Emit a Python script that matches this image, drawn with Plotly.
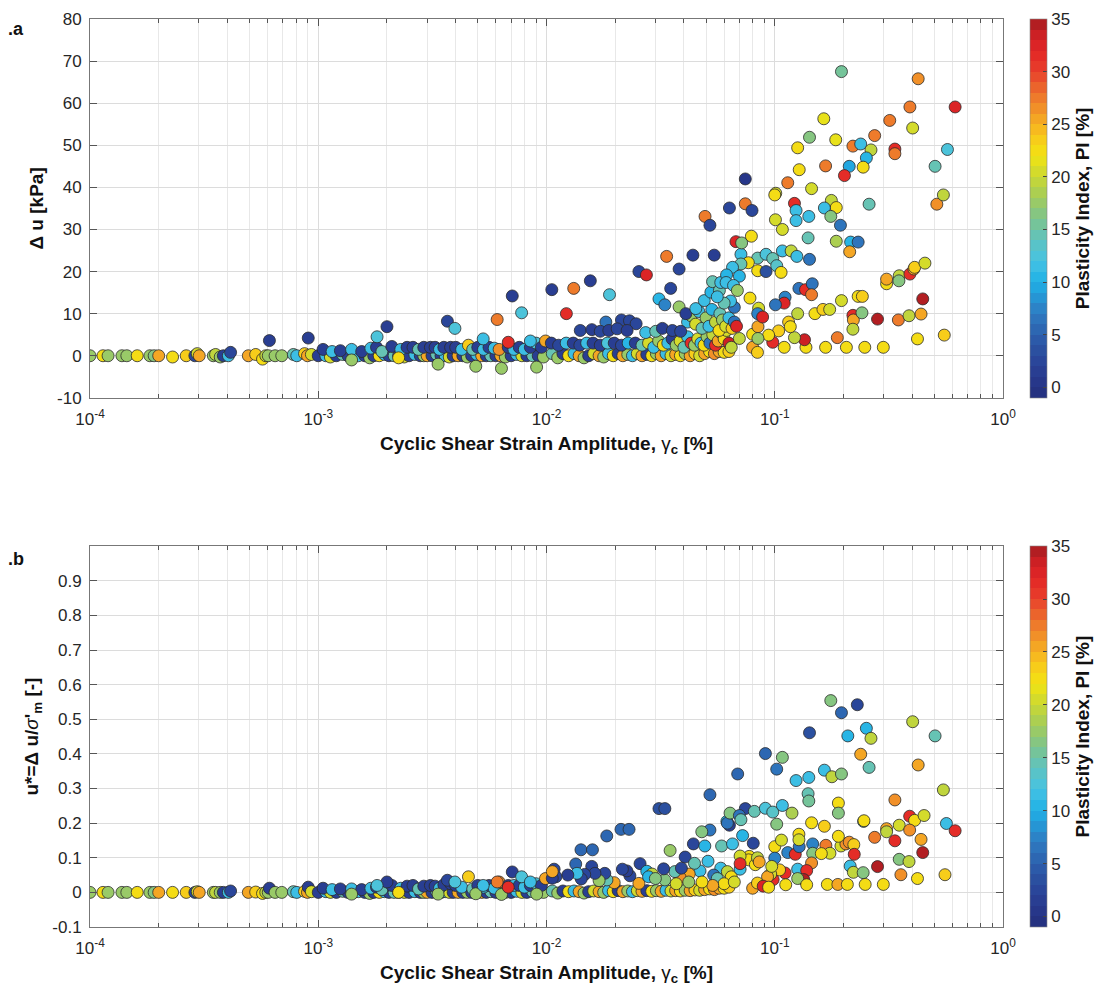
import numpy as np
import plotly.graph_objects as go

# ---------------- DATA ----------------
# Shared low-strain tests (x < 1e-3): strain [%], PI [%], du [kPa] (panel a), u* [-] (panel b)
low_x = [0.000100, 0.000114, 0.000120, 0.000138, 0.000145, 0.000161, 0.000183, 0.000191, 0.000200, 0.000230,
         0.000264, 0.000288, 0.000295, 0.000301, 0.000347, 0.000355, 0.000372, 0.000384, 0.000404, 0.000413,
         0.000494, 0.000532, 0.000570, 0.000589, 0.000604, 0.000611, 0.000647, 0.000692, 0.000778, 0.000805,
         0.000871, 0.000897, 0.000904, 0.000933]
low_pi = [17, 22, 17, 17, 17, 22, 17, 16, 25, 22,
          23, 2, 20, 25, 17, 19, 17, 1, 11, 2,
          25, 23, 22, 19, 17, 1, 17, 17, 14, 11,
          23, 25, 1, 20]
low_du = [0, 0, 0, 0, 0, 0, 0, 0, 0, -0.3,
          0, 0, 0.5, 0, 0, 0.3, -0.3, 0, 0, 0.8,
          0, 0.3, -0.8, 0, 0, 3.6, 0, 0, 0.3, 0,
          0.5, 0, 4.2, 0.3]
low_us = [0, 0, 0, 0, 0, 0, 0, 0, 0, 0,
          0, 0, 0.002, 0, 0, 0, 0, 0, 0, 0.004,
          0, 0.001, -0.003, 0, 0, 0.012, 0, 0, 0.002, 0,
          0.003, 0, 0.015, 0.002]

# 1e-3 .. 1e-2, lower row
mid0_x = [0.00100, 0.00108, 0.00113, 0.00120, 0.00128, 0.00135, 0.00143, 0.00150, 0.00160, 0.00168,
          0.00175, 0.00185, 0.00195, 0.00204, 0.00215, 0.00225, 0.00238, 0.00250, 0.00265, 0.00280,
          0.00290, 0.00300, 0.00315, 0.00330, 0.00345, 0.00360, 0.00375, 0.00390, 0.00410, 0.00430,
          0.00450, 0.00470, 0.00495, 0.00520, 0.00545, 0.00570, 0.00600, 0.00630, 0.00660, 0.00700,
          0.00740, 0.00780, 0.00820, 0.00870, 0.00920, 0.00970]
mid0_pi = [1, 11, 20, 1, 14, 1, 25, 11, 1, 17,
           1, 22, 11, 1, 14, 1, 20, 1, 11, 1,
           17, 25, 1, 14, 1, 11, 20, 1, 25, 1,
           17, 1, 11, 25, 1, 14, 1, 25, 17, 1,
           11, 20, 1, 14, 1, 17]
mid0_du = [0, 0, -0.3, 0, 0.3, 0, 0, 0, 0, -0.5,
           0, 0, 0.3, 0, 0, 0, -0.3, 0, 0.3, 0,
           0, 0, 0, 0.3, 0, 0, -0.3, 0, 0, 0,
           -0.3, 0, 0.3, 0, 0, 0, 0, 0, -0.3, 0,
           0.3, 0, 0, 0, 0, -0.3]
mid0_us = [0, 0.002, 0, 0, 0.003, 0, 0, 0.002, 0, -0.003,
           0, 0, 0.002, 0, 0, 0, 0, 0, 0.002, 0,
           0, 0, 0, 0.003, 0, 0.002, 0, 0, 0, 0,
           0, 0, 0.003, 0, 0, 0.002, 0, 0, 0, 0,
           0.003, 0, 0, 0.002, 0, 0]

# 1e-3 .. 1e-2, upper row
mid1_x = [0.00105, 0.00115, 0.00125, 0.00140, 0.00155, 0.00170, 0.00180, 0.00190, 0.00210, 0.00230,
          0.00245, 0.00260, 0.00275, 0.00290, 0.00310, 0.00325, 0.00340, 0.00355, 0.00380, 0.00400,
          0.00425, 0.00455, 0.00475, 0.00500, 0.00530, 0.00560, 0.00590, 0.00620, 0.00680, 0.00720,
          0.00760, 0.00800, 0.00850, 0.00900, 0.00950, 0.00990]
mid1_pi = [1, 11, 1, 11, 1, 11, 1, 14, 1, 11,
           1, 1, 14, 1, 1, 1, 11, 1, 1, 1,
           11, 23, 14, 1, 11, 1, 11, 26, 1, 11,
           1, 11, 1, 12, 1, 25]
mid1_du = [1.5, 1.0, 1.2, 1.5, 1.0, 1.8, 2.0, 1.0, 2.2, 1.5,
           2.0, 2.0, 1.5, 2.0, 2.0, 2.0, 1.5, 2.0, 2.0, 2.0,
           1.5, 2.5, 1.5, 2.0, 1.5, 2.0, 1.8, 1.5, 2.0, 1.5,
           2.0, 1.5, 2.0, 3.0, 2.0, 3.5]
mid1_us = [0.012, 0.008, 0.010, 0.010, 0.008, 0.012, 0.015, 0.008, 0.020, 0.012,
           0.018, 0.020, 0.010, 0.018, 0.020, 0.018, 0.012, 0.022, 0.025, 0.020,
           0.015, 0.045, 0.010, 0.020, 0.015, 0.020, 0.012, 0.030, 0.020, 0.020,
           0.020, 0.015, 0.020, 0.025, 0.020, 0.040]

# negative and isolated points 1e-3 .. 1e-2
neg_x = [0.00140, 0.00335, 0.00490, 0.00635, 0.00905, 0.00225]
neg_pi = [17, 17, 17, 17, 17, 22]
neg_du = [-1.0, -2.0, -2.5, -3.0, -2.7, -0.5]
neg_us = [-0.005, -0.005, -0.004, -0.006, -0.005, 0]

out_x = [0.00200, 0.00181, 0.00368, 0.00397, 0.00708, 0.00778, 0.00608, 0.00528, 0.00680, 0.00850]
out_pi = [1, 12, 2, 12, 1, 12, 27, 11, 31, 11]
out_du = [6.9, 4.5, 8.2, 6.5, 14.2, 10.2, 8.6, 4.0, 3.2, 3.5]
out_us = [0.030, 0.020, 0.035, 0.030, 0.059, 0.045, 0.030, 0.020, 0.015, 0.030]

# band near zero, 1e-2 .. 7e-2
band_x = [0.0106, 0.0112, 0.0118, 0.0125, 0.0132, 0.0139, 0.0146, 0.0153, 0.0161, 0.0170,
          0.0178, 0.0187, 0.0196, 0.0206, 0.0216, 0.0227, 0.0238, 0.0250, 0.0262, 0.0275,
          0.0289, 0.0303, 0.0318, 0.0334, 0.0351, 0.0368, 0.0386, 0.0405, 0.0426, 0.0447,
          0.0469, 0.0493, 0.0518, 0.0544, 0.0571, 0.0600, 0.0630]
band_pi = [14, 17, 1, 22, 11, 25, 17, 1, 20, 25,
           17, 11, 22, 1, 25, 17, 11, 20, 25, 1,
           22, 17, 25, 11, 20, 25, 22, 17, 25, 23,
           20, 25, 22, 26, 25, 22, 23]
band_du = [0.5, -0.5, 0.5, 0, 0.5, 0, -0.5, 0, 0.5, 0,
           -0.3, 0.5, 0, 0.5, 0, 0.3, 0, 0.5, 0, 0.3,
           0, 0.5, 0, 0.5, 0, 0.3, 0, 0.5, 0, 0.5,
           0, 0.5, 1.0, 0.5, 1.0, 0.8, 1.0]
band_us = [0.004, -0.002, 0.004, 0.002, 0.004, 0.002, -0.002, 0.002, 0.004, 0.002,
           0, 0.005, 0.002, 0.005, 0.002, 0.004, 0.002, 0.005, 0.003, 0.005,
           0.003, 0.005, 0.003, 0.006, 0.004, 0.005, 0.004, 0.006, 0.005, 0.007,
           0.006, 0.008, 0.010, 0.008, 0.012, 0.012, 0.015]

# ---- panel a only: larger strains ----
rise1_x = [0.01055, 0.01316, 0.01556, 0.01888, 0.01222, 0.0182, 0.0213, 0.0231, 0.0247, 0.0254,
           0.0274, 0.0381, 0.0350, 0.0311, 0.0330, 0.0381, 0.0408, 0.0451, 0.0491, 0.0525,
           0.0534, 0.0572, 0.0580, 0.0640, 0.0600, 0.0560, 0.0665, 0.0680,
           0.01406, 0.0158, 0.0172, 0.01875, 0.0204, 0.02255, 0.0272, 0.0301, 0.0322, 0.0356, 0.0387]
rise1_du = [15.7, 16.0, 17.8, 14.5, 10.0, 8.0, 8.5, 8.3, 7.6, 20.0,
            19.2, 20.6, 16.0, 13.5, 12.1, 11.6, 10.0, 11.2, 13.1, 15.1,
            17.6, 15.5, 17.4, 13.0, 12.5, 14.0, 8.0, 7.0,
            6.0, 6.2, 5.8, 6.0, 6.4, 6.0, 5.5, 5.8, 6.5, 6.0, 5.8]
rise1_pi = [1, 27, 1, 12, 31, 6, 2, 2, 2, 2,
            32, 2, 2, 10, 7, 17, 1, 11, 11, 10,
            14, 14, 11, 11, 14, 11, 6, 32,
            2, 1, 2, 1, 2, 1, 11, 14, 1, 2, 2]

rise2_x = [0.0105, 0.0113, 0.0122, 0.0131, 0.0140, 0.0150, 0.0160, 0.0172, 0.0185, 0.0198, 0.0213, 0.0228, 0.0245, 0.0262,
           0.0280, 0.0295, 0.0310, 0.0325, 0.0340, 0.0355, 0.0370, 0.0385, 0.0400, 0.0415, 0.0430, 0.0445, 0.0460,
           0.0475, 0.0490, 0.0505, 0.0520, 0.0535, 0.0550, 0.0565, 0.0580, 0.0600, 0.0615, 0.0630, 0.0645,
           0.0415, 0.0430, 0.0450, 0.0465, 0.0480, 0.0500, 0.0515, 0.0530, 0.0550, 0.0570, 0.0575, 0.0590,
           0.0610, 0.0630, 0.0650, 0.0665]
rise2_du = [3.0, 2.5, 3.0, 3.0, 2.5, 3.0, 3.0, 2.5, 3.0, 3.0, 2.5, 3.0, 3.0, 2.5,
            3.0, 2.0, 3.5, 2.5, 3.0, 4.0, 2.5, 3.5, 2.0, 4.5, 3.0, 2.5, 4.0,
            3.0, 2.5, 4.5, 3.0, 5.0, 2.5, 3.5, 5.5, 4.0, 6.0, 3.0, 2.0,
            8.0, 9.5, 7.5, 10.5, 6.5, 9.0, 7.0, 11.0, 8.0, 6.0, 10.0, 8.5,
            7.0, 9.0, 6.5, 11.5]
rise2_pi = [1, 2, 11, 1, 2, 11, 1, 1, 12, 1, 2, 10, 1, 14,
            20, 11, 17, 22, 11, 1, 17, 20, 14, 11, 31, 17, 20,
            11, 22, 17, 6, 19, 31, 25, 17, 22, 20, 33, 19,
            11, 17, 20, 11, 14, 17, 11, 10, 19, 22, 14, 17,
            20, 11, 23, 6]

far1_x = [0.196, 0.425, 0.391, 0.617, 0.164, 0.319, 0.402, 0.142, 0.185, 0.274,
          0.126, 0.220, 0.238, 0.264, 0.336, 0.336, 0.571, 0.252, 0.244, 0.212,
          0.167, 0.128, 0.202, 0.504, 0.114, 0.0743, 0.101, 0.100, 0.145, 0.0633,
          0.0743, 0.0795, 0.122, 0.124, 0.124, 0.141, 0.177, 0.186, 0.165, 0.176,
          0.259, 0.513, 0.548, 0.0495, 0.052, 0.1007, 0.108, 0.079, 0.0676, 0.0716,
          0.194, 0.140, 0.186, 0.215, 0.232, 0.213]
far1_du = [67.5, 65.8, 59.1, 59.1, 56.3, 55.9, 54.1, 51.9, 51.3, 52.3,
           49.4, 49.8, 50.3, 48.9, 49.1, 48.0, 49.0, 47.0, 44.8, 45.0,
           45.1, 44.2, 42.8, 45.0, 41.1, 42.0, 38.6, 38.2, 39.7, 35.1,
           36.1, 34.5, 36.2, 34.5, 32.1, 33.1, 36.9, 35.2, 35.1, 33.1,
           36.0, 36.0, 38.2, 33.1, 31.0, 32.3, 30.0, 28.4, 27.1, 26.8,
           31.0, 28.0, 27.2, 27.0, 27.0, 24.7]
far1_pi = [15, 26, 27, 32, 21, 27, 20, 16, 21, 27,
           22, 27, 11, 19, 31, 27, 12, 10, 22, 9,
           27, 22, 31, 14, 27, 0, 20, 22, 20, 2,
           27, 2, 31, 11, 11, 11, 19, 22, 11, 16,
           14, 26, 19, 27, 2, 20, 20, 22, 32, 16,
           6, 14, 18, 10, 6, 25]

far2_x = [0.0336, 0.0438, 0.0543, 0.0711, 0.0842, 0.0916, 0.098, 0.108, 0.118, 0.125,
          0.142, 0.0766, 0.0711, 0.0653, 0.0615, 0.0612, 0.070, 0.066, 0.0686, 0.0842,
          0.0916, 0.102, 0.1066, 0.1276, 0.1364, 0.146, 0.145, 0.111, 0.110, 0.1007,
          0.0779, 0.085, 0.0842, 0.0885, 0.196, 0.232, 0.242, 0.309, 0.309, 0.351,
          0.350, 0.391, 0.407, 0.410, 0.455, 0.445]
far2_du = [23.6, 23.9, 23.9, 24.1, 23.2, 24.1, 23.1, 24.9, 24.9, 23.6,
           22.9, 22.1, 21.8, 21.0, 19.2, 17.4, 18.9, 16.7, 15.5, 20.2,
           20.0, 21.4, 19.8, 16.0, 15.7, 17.1, 14.5, 13.9, 12.5, 12.1,
           13.7, 11.3, 10.0, 9.2, 13.1, 14.1, 14.1, 17.1, 18.2, 19.0,
           17.8, 19.4, 20.6, 21.0, 22.0, 13.5]
far2_pi = [27, 1, 1, 11, 14, 12, 14, 11, 19, 11,
           6, 22, 14, 11, 10, 11, 10, 11, 17, 22,
           3, 13, 22, 6, 31, 6, 27, 7, 32, 6,
           22, 20, 7, 32, 20, 22, 23, 22, 25, 19,
           16, 31, 25, 23, 20, 34]

far3_x = [0.126, 0.150, 0.1626, 0.174, 0.220, 0.221, 0.220, 0.241, 0.282, 0.348,
          0.3875, 0.4375, 0.188, 0.422, 0.553, 0.110, 0.137, 0.167, 0.206, 0.248,
          0.299, 0.098, 0.135, 0.122, 0.115, 0.117, 0.104, 0.094, 0.080, 0.084,
          0.080, 0.0844, 0.0844, 0.070]
far3_du = [10.0, 10.0, 11.0, 11.0, 9.6, 8.5, 6.3, 10.2, 8.7, 8.5,
           9.5, 9.9, 4.3, 4.0, 4.9, 2.0, 2.0, 2.0, 2.0, 2.0,
           2.0, 3.2, 3.8, 4.3, 8.0, 6.9, 5.9, 4.9, 2.0, 0.8,
           5.1, 6.9, 4.1, 4.1]
far3_pi = [19, 22, 23, 20, 31, 25, 19, 16, 34, 27,
           19, 25, 27, 22, 23, 22, 22, 22, 22, 22,
           22, 31, 33, 19, 23, 22, 23, 22, 25, 23,
           22, 25, 17, 19]

# ---- panel b only: larger strains ----
bfar_x = [0.176, 0.230, 0.196, 0.402, 0.142, 0.209, 0.252, 0.264, 0.504, 0.091,
          0.108, 0.102, 0.238, 0.425, 0.259, 0.0688, 0.124, 0.141, 0.165, 0.178,
          0.196, 0.052, 0.548, 0.140, 0.141, 0.336, 0.0311, 0.0330, 0.190, 0.190,
          0.0743, 0.0637, 0.070, 0.0711, 0.0814, 0.0910, 0.098, 0.108, 0.119, 0.102,
          0.145, 0.165, 0.245, 0.246]
bfar_us = [0.554, 0.542, 0.519, 0.493, 0.461, 0.452, 0.474, 0.445, 0.452, 0.401,
           0.390, 0.356, 0.399, 0.368, 0.361, 0.342, 0.323, 0.332, 0.353, 0.334,
           0.342, 0.282, 0.296, 0.285, 0.264, 0.267, 0.242, 0.242, 0.258, 0.229,
           0.242, 0.229, 0.222, 0.210, 0.234, 0.243, 0.232, 0.251, 0.229, 0.197,
           0.201, 0.191, 0.205, 0.207]
bfar_pi = [16, 2, 5, 19, 3, 10, 10, 19, 14, 5,
           16, 6, 25, 25, 14, 5, 11, 11, 11, 19,
           16, 5, 19, 14, 15, 26, 3, 3, 22, 16,
           2, 16, 6, 14, 14, 12, 13, 11, 18, 16,
           22, 23, 14, 22]

bmid_x = [0.390, 0.410, 0.451, 0.565, 0.617, 0.0633, 0.0620, 0.0520, 0.0479, 0.190,
          0.309, 0.351, 0.309, 0.390, 0.274, 0.336, 0.4375, 0.445, 0.351, 0.3875,
          0.282, 0.214, 0.221, 0.244, 0.357, 0.422, 0.557, 0.170, 0.189, 0.208,
          0.249, 0.299, 0.1117, 0.138]
bmid_us = [0.220, 0.208, 0.222, 0.199, 0.178, 0.194, 0.200, 0.180, 0.175, 0.162,
           0.184, 0.194, 0.175, 0.180, 0.159, 0.149, 0.153, 0.115, 0.0955, 0.089,
           0.0745, 0.076, 0.058, 0.057, 0.051, 0.040, 0.051, 0.023, 0.023, 0.023,
           0.023, 0.023, 0.022, 0.022]
bmid_pi = [31, 22, 20, 11, 31, 1, 6, 6, 16, 22,
           25, 20, 19, 26, 27, 31, 25, 34, 16, 19,
           34, 11, 19, 16, 26, 22, 23, 22, 25, 22,
           22, 22, 22, 22]

bclu_x = [0.100, 0.100, 0.107, 0.114, 0.123, 0.128, 0.1466, 0.1466, 0.1675, 0.1745,
          0.160, 0.195, 0.205, 0.212, 0.222, 0.223, 0.145, 0.126, 0.138, 0.134,
          0.126, 0.111, 0.105, 0.0984, 0.096, 0.093, 0.1276, 0.1276, 0.0773, 0.0768,
          0.0822, 0.084, 0.0855, 0.097, 0.0705, 0.0705, 0.0705, 0.080, 0.084, 0.089, 0.094]
bclu_us = [0.132, 0.099, 0.151, 0.115, 0.110, 0.132, 0.140, 0.113, 0.136, 0.113,
           0.112, 0.134, 0.140, 0.145, 0.138, 0.110, 0.085, 0.067, 0.063, 0.037,
           0.040, 0.056, 0.065, 0.037, 0.053, 0.045, 0.168, 0.152, 0.104, 0.094,
           0.080, 0.100, 0.088, 0.075, 0.105, 0.067, 0.083, 0.012, 0.027, 0.018, 0.015]
bclu_pi = [22, 7, 20, 7, 31, 6, 7, 16, 27, 20,
           22, 20, 26, 26, 23, 31, 26, 11, 31, 34,
           17, 31, 23, 31, 20, 25, 22, 20, 22, 22,
           22, 19, 25, 20, 20, 11, 31, 25, 23, 32, 22]

bcl2_x = [0.01837, 0.0212, 0.0230, 0.01416, 0.0159, 0.01343, 0.0108, 0.01578, 0.0257, 0.0275,
          0.0440, 0.0405, 0.0348, 0.0494, 0.0585, 0.0617, 0.0723, 0.0653, 0.0805, 0.058,
          0.051, 0.047, 0.0445, 0.0422, 0.0385, 0.0365, 0.033, 0.0326, 0.029, 0.0254,
          0.0232, 0.0225, 0.0215, 0.0198, 0.0184, 0.018, 0.0170, 0.0163, 0.0147, 0.0142,
          0.0136, 0.0124, 0.0110, 0.0106, 0.0106, 0.0390, 0.0280, 0.030, 0.054, 0.056,
          0.062, 0.0645, 0.060, 0.0665, 0.0535, 0.048, 0.042, 0.037]
bcl2_us = [0.163, 0.182, 0.182, 0.123, 0.123, 0.082, 0.067, 0.075, 0.083, 0.061,
           0.140, 0.102, 0.121, 0.134, 0.134, 0.205, 0.164, 0.140, 0.142, 0.070,
           0.090, 0.062, 0.084, 0.053, 0.043, 0.060, 0.036, 0.068, 0.053, 0.026,
           0.048, 0.062, 0.067, 0.028, 0.036, 0.055, 0.034, 0.055, 0.052, 0.039,
           0.055, 0.050, 0.045, 0.041, 0.060, 0.070, 0.045, 0.040, 0.050, 0.040,
           0.060, 0.045, 0.025, 0.030, 0.020, 0.030, 0.030, 0.025]
bcl2_pi = [5, 5, 5, 5, 5, 5, 2, 2, 2, 10,
           2, 2, 17, 10, 14, 10, 10, 11, 2, 11,
           11, 11, 14, 25, 26, 14, 16, 2, 19, 25,
           2, 1, 2, 25, 14, 2, 17, 2, 2, 2,
           11, 1, 2, 1, 25, 2, 10, 16, 6, 14,
           19, 22, 22, 20, 25, 22, 17, 20]

x_tick_vals = [1e-4, 1e-3, 1e-2, 1e-1, 1e0]
x_tick_text = ["10<sup>-4</sup>", "10<sup>-3</sup>", "10<sup>-2</sup>", "10<sup>-1</sup>", "10<sup>0</sup>"]
ya_tick_vals = [-10, 0, 10, 20, 30, 40, 50, 60, 70, 80]
yb_tick_vals = [-0.1, 0, 0.1, 0.2, 0.3, 0.4, 0.5, 0.6, 0.7, 0.8, 0.9]
yb_tick_text = ["-0.1", "0", "0.1", "0.2", "0.3", "0.4", "0.5", "0.6", "0.7", "0.8", "0.9"]
cb_ticks = [0, 5, 10, 15, 20, 25, 30, 35]

# ---------------- STYLE: discrete jet-like colormap ----------------
CMIN, CMAX, NB = -1.0, 35.0, 36
stop_pi = [-1, 1, 4, 7, 10, 12, 14, 16, 18, 20, 22, 24, 26, 28, 30, 32, 34, 35]
stop_col = ['#24307c', '#28398f', '#2c54a4', '#2e7ac1', '#1fb0e6', '#45c3e3', '#5fc3c0',
            '#7cc48e', '#a3cc5b', '#c9d833', '#f3e412', '#f8c51d', '#f39b26', '#ec702d',
            '#e8402b', '#e32526', '#c41f24', '#a01c21']


def h2r(h):
    return [int(h[i:i + 2], 16) for i in (1, 3, 5)]


stop_rgb = np.array([h2r(c) for c in stop_col], dtype=float)
band_cols = []
for i in range(NB):
    c = CMIN + (i + 0.5) * (CMAX - CMIN) / NB
    rgb = [np.interp(c, stop_pi, stop_rgb[:, k]) for k in range(3)]
    band_cols.append('rgb(%d,%d,%d)' % tuple(int(round(v)) for v in rgb))
colorscale = []
for i, c in enumerate(band_cols):
    colorscale.append([i / NB, c])
    colorscale.append([(i + 1) / NB, c])


def pi_color(v):
    i = int(np.floor((v - CMIN) / (CMAX - CMIN) * NB))
    return band_cols[max(0, min(NB - 1, i))]


# ---------------- assemble ----------------
a_groups = [(low_x, low_du, low_pi), (mid0_x, mid0_du, mid0_pi), (mid1_x, mid1_du, mid1_pi),
            (neg_x, neg_du, neg_pi), (out_x, out_du, out_pi), (band_x, band_du, band_pi),
            (rise2_x, rise2_du, rise2_pi), (rise1_x, rise1_du, rise1_pi),
            (far3_x, far3_du, far3_pi), (far2_x, far2_du, far2_pi), (far1_x, far1_du, far1_pi)]
b_groups = [(low_x, low_us, low_pi), (mid0_x, mid0_us, mid0_pi), (mid1_x, mid1_us, mid1_pi),
            (neg_x, neg_us, neg_pi), (out_x, out_us, out_pi), (band_x, band_us, band_pi),
            (bcl2_x, bcl2_us, bcl2_pi), (bclu_x, bclu_us, bclu_pi),
            (bmid_x, bmid_us, bmid_pi), (bfar_x, bfar_us, bfar_pi)]


def flat(groups):
    xs, ys, ps = [], [], []
    for gx, gy, gp in groups:
        assert len(gx) == len(gy) == len(gp), (len(gx), len(gy), len(gp))
        xs += gx
        ys += gy
        ps += gp
    return xs, ys, ps


ax_, ay_, ap_ = flat(a_groups)
bx_, by_, bp_ = flat(b_groups)

FONT = "Liberation Sans, Arial, sans-serif"
TXT = '#262626'
TICK_FS = 17
TITLE_FS = 19
marker_line = dict(color='#2b2b2b', width=0.8)
MS = 12

fig = go.Figure()
fig.add_trace(go.Scatter(x=ax_, y=ay_, mode='markers', xaxis='x', yaxis='y', showlegend=False,
                         hoverinfo='skip',
                         marker=dict(size=MS, color=[pi_color(p) for p in ap_], line=marker_line)))
fig.add_trace(go.Scatter(x=bx_, y=by_, mode='markers', xaxis='x2', yaxis='y2', showlegend=False,
                         hoverinfo='skip',
                         marker=dict(size=MS, color=[pi_color(p) for p in bp_], line=marker_line)))
# colour-bar carriers (outside visible range)
fig.add_trace(go.Scatter(x=[1e-6], y=[0], mode='markers', xaxis='x', yaxis='y', showlegend=False,
                         hoverinfo='skip', marker=dict(color=[CMIN], coloraxis='coloraxis')))
fig.add_trace(go.Scatter(x=[1e-6], y=[0], mode='markers', xaxis='x2', yaxis='y2', showlegend=False,
                         hoverinfo='skip', marker=dict(color=[CMIN], coloraxis='coloraxis2')))

minor_vals = [m * 10.0 ** e for e in range(-4, 0) for m in range(2, 10)]

xtitle = "<b>Cyclic Shear Strain Amplitude, </b>γ<sub><b>c</b></sub><b> [%]</b>"


def xaxis(anchor):
    return dict(type='log', range=[-4, 0], domain=[0, 1], anchor=anchor,
                tickmode='array', tickvals=x_tick_vals, ticktext=x_tick_text,
                ticks='inside', ticklen=7, tickcolor='#555', tickwidth=1, ticklabelstandoff=6,
                showgrid=True, gridcolor='#dcdcdc', gridwidth=1,
                minor=dict(tickmode='array', tickvals=minor_vals, ticks='inside', ticklen=4,
                           tickcolor='#555', showgrid=True, gridcolor='#e8e8e8', gridwidth=1),
                showline=True, linecolor='#777', linewidth=1, mirror='ticks', zeroline=False,
                tickfont=dict(family=FONT, size=TICK_FS, color=TXT),
                title=dict(text=xtitle, font=dict(family=FONT, size=TITLE_FS, color='#111'), standoff=8))


def colorbar(yc, ln):
    return dict(x=(1030 - 90) / 913.0, xanchor='left', xpad=0, y=yc, yanchor='middle', ypad=0,
                len=ln, lenmode='fraction', thickness=17, tickmode='array', tickvals=cb_ticks,
                ticks='inside', ticklen=4, tickcolor='#444', outlinewidth=0.6, outlinecolor='#888',
                tickfont=dict(family=FONT, size=TICK_FS, color=TXT),
                title=dict(text='<b>Plasticity Index, PI [%]</b>', side='right',
                           font=dict(family=FONT, size=19, color='#111')))


H = 990 - 10 - 62
da = [(928 - 393) / H, 1.0]
db = [0.0, (928 - 543) / H]


def yaxis(dom, anchor, rng, vals, texts, title):
    return dict(domain=dom, anchor=anchor, range=rng, tickmode='array', tickvals=vals,
                ticktext=texts, ticks='inside', ticklen=7, tickcolor='#555', ticklabelstandoff=4,
                showgrid=True, gridcolor='#dcdcdc', showline=True, linecolor='#777', mirror='ticks',
                zeroline=False, tickfont=dict(family=FONT, size=TICK_FS, color=TXT),
                title=dict(text=title, font=dict(family=FONT, size=TITLE_FS, color='#111'), standoff=8))


fig.update_layout(
    width=1105, height=990, margin=dict(l=90, r=102, t=10, b=62),
    paper_bgcolor='white', plot_bgcolor='white',
    font=dict(family=FONT, size=TICK_FS, color=TXT),
    xaxis=xaxis('y'), xaxis2=xaxis('y2'),
    yaxis=yaxis(da, 'x', [-10, 80], ya_tick_vals, [str(v) for v in ya_tick_vals], '<b>Δ u [kPa]</b>'),
    yaxis2=yaxis(db, 'x2', [-0.1, 1.0], yb_tick_vals, yb_tick_text,
                 "<b>u*=Δ u/</b><i>σ</i><b>'</b><sub><b>m</b></sub><b> [-]</b>"),
    coloraxis=dict(cmin=CMIN, cmax=CMAX, colorscale=colorscale,
                   colorbar=colorbar((da[0] + da[1]) / 2, da[1] - da[0])),
    coloraxis2=dict(cmin=CMIN, cmax=CMAX, colorscale=colorscale,
                    colorbar=colorbar((db[0] + db[1]) / 2, db[1] - db[0])),
    annotations=[
        dict(text='<b>.a</b>', xref='paper', yref='paper', x=(6 - 90) / 913.0, y=(928 - 20) / H,
             xanchor='left', yanchor='middle', showarrow=False, font=dict(family=FONT, size=18, color='#111')),
        dict(text='<b>.b</b>', xref='paper', yref='paper', x=(6 - 90) / 913.0, y=(928 - 556) / H,
             xanchor='left', yanchor='middle', showarrow=False, font=dict(family=FONT, size=18, color='#111')),
    ],
)

fig.write_html("out.html")
